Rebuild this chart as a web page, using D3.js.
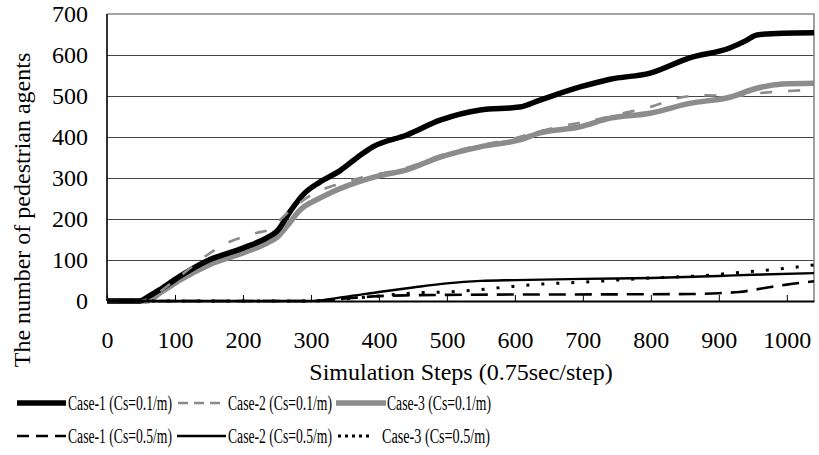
<!DOCTYPE html>
<html>
<head>
<meta charset="utf-8">
<script src="https://cdn.jsdelivr.net/npm/d3@7"></script>
<style>
  body { margin: 0; background: #fff; }
  svg { display: block; font-family: "Liberation Serif", "Times New Roman", serif; }
</style>
</head>
<body>
<div id="chart"></div>
<script>
// x ticks / y ticks
const xTicks = [0, 100, 200, 300, 400, 500, 600, 700, 800, 900, 1000];
const yTicks = [0, 100, 200, 300, 400, 500, 600, 700];

// [step, agents]
const case1Low = [[0,0],[48,0],[60,10],[80,30],[107,60],[150,100],[200,129],[235,154],[250,170],[270,220],[290,262],[313,290],[343,318],[372,355],[391,376],[441,405],[490,441],[549,466],[607,473],[637,490],[696,522],[740,541],[799,556],[857,593],[916,617],[940,635],[956,649],[994,653],[1040,654]];
const case2Low = [[0,0],[50,0],[70,15],[107,60],[137,100],[176,141],[220,166],[240,175],[259,205],[300,258],[340,285],[372,300],[441,325],[490,355],[549,380],[600,397],[634,413],[676,429],[715,441],[759,458],[799,473],[840,495],[882,502],[920,500],[960,507],[1000,512],[1040,515]];
const case3Low = [[0,0],[59,0],[80,22],[107,51],[150,88],[200,117],[235,141],[250,155],[264,181],[284,222],[313,251],[372,292],[400,305],[441,320],[490,351],[549,376],[607,393],[637,410],[696,425],[740,446],[799,458],[857,482],[916,497],[956,519],[994,529],[1040,531]];
const case1High = [[0,0],[300,0],[350,6],[400,12],[450,14],[500,15],[860,17],[900,19],[930,22],[965,31],[1000,40],[1040,48]];
const case2High = [[0,0],[300,0],[350,10],[400,22],[450,33],[500,43],[550,49],[600,51],[700,54],[800,56],[900,61],[950,64],[1040,68]];
const case3High = [[0,0],[300,0],[350,5],[400,12],[455,20],[500,22],[549,28],[593,35],[637,41],[700,46],[799,56],[887,63],[931,70],[975,76],[1000,80],[1040,88]];

const seriesNames = ["Case-1 (Cs=0.1/m)", "Case-2 (Cs=0.1/m)", "Case-3 (Cs=0.1/m)",
                     "Case-1 (Cs=0.5/m)", "Case-2 (Cs=0.5/m)", "Case-3 (Cs=0.5/m)"];

const W = 819, H = 455;
const margin = { top: 14, right: 5, bottom: 154, left: 107 };

const svg = d3.select("#chart").append("svg")
  .attr("width", W).attr("height", H);

const x = d3.scaleLinear().domain([0, 1040]).range([margin.left, W - margin.right]);
const y = d3.scaleLinear().domain([0, 700]).range([H - margin.bottom, margin.top]);

// gridlines
svg.append("g")
  .attr("transform", `translate(${margin.left},0)`)
  .call(d3.axisLeft(y).tickValues(yTicks.slice(1, -1)).tickSize(-(x.range()[1] - margin.left)).tickFormat(""))
  .call(g => g.select(".domain").remove())
  .call(g => g.selectAll("line").attr("stroke", "#444").attr("stroke-width", 1));

// frame top and right
svg.append("path")
  .attr("d", `M${x(0)},${y(700)}H${x(1040)}V${y(0)}`)
  .attr("fill", "none").attr("stroke", "#888").attr("stroke-width", 1.6);

// y tick labels
svg.append("g")
  .attr("transform", `translate(${margin.left},0)`)
  .call(d3.axisLeft(y).tickValues(yTicks).tickSize(0).tickPadding(19).tickFormat(d3.format("d")))
  .call(g => g.select(".domain").remove())
  .call(g => g.selectAll("text")
    .attr("font-family", "Liberation Serif").attr("font-size", 24).attr("fill", "#000"));

// x axis, ticks pointing into the plot
const xAxis = svg.append("g")
  .attr("transform", `translate(0,${y(0)})`)
  .call(d3.axisBottom(x).tickValues(xTicks).tickSize(-6).tickSizeOuter(0).tickFormat(d3.format("d")))
  .call(g => g.select(".domain").attr("stroke", "#000").attr("stroke-width", 2.2))
  .call(g => g.selectAll("line").attr("stroke", "#000"));
xAxis.selectAll("text")
  .attr("font-family", "Liberation Serif").attr("font-size", 24).attr("fill", "#000")
  .attr("y", 47).attr("dy", 0);

// left axis line
svg.append("line")
  .attr("x1", x(0)).attr("x2", x(0)).attr("y1", y(700)).attr("y2", y(0))
  .attr("stroke", "#000").attr("stroke-width", 1.6);

const line = d3.line()
  .x(d => x(d[0]))
  .y(d => y(d[1]))
  .curve(d3.curveMonotoneX);

const styles = [
  { data: case1Low, color: "#000", width: 5.5, dash: null, legendDash: null },
  { data: case2Low, color: "#8c8c8c", width: 2.6, dash: "12,16", legendDash: "10,6" },
  { data: case3Low, color: "#8c8c8c", width: 5.5, dash: null, legendDash: null },
  { data: case1High, color: "#000", width: 2.6, dash: "17,9", legendDash: "12,7" },
  { data: case2High, color: "#000", width: 2.4, dash: null, legendDash: null },
  { data: case3High, color: "#000", width: 3, dash: "3,12", legendDash: "3,4" }
];

const drawOrder = [2, 0, 1, 3, 4, 5];
const plot = svg.append("g");
drawOrder.forEach(i => {
  const s = styles[i];
  plot.append("path")
    .datum(s.data)
    .attr("d", line)
    .attr("fill", "none")
    .attr("stroke", s.color)
    .attr("stroke-width", s.width)
    .attr("stroke-dasharray", s.dash)
    .attr("stroke-linejoin", "round");
});

// axis titles
svg.append("text")
  .attr("x", 461).attr("y", 380)
  .attr("text-anchor", "middle")
  .attr("font-size", 24)
  .text("Simulation Steps (0.75sec/step)");

svg.append("text")
  .attr("transform", "translate(30,210) rotate(-90)")
  .attr("text-anchor", "middle")
  .attr("font-size", 24)
  .text("The number of pedestrian agents");

// legend
const legendPos = [
  { x0: 17, x1: 66, tx: 68, y: 403 },
  { x0: 178, x1: 224, tx: 228, y: 403 },
  { x0: 336, x1: 386, tx: 387, y: 403 },
  { x0: 17, x1: 66, tx: 68, y: 436 },
  { x0: 177, x1: 226, tx: 228, y: 436 },
  { x0: 338, x1: 372, tx: 382, y: 436 }
];

const legend = svg.append("g");
styles.forEach((s, i) => {
  const p = legendPos[i];
  legend.append("line")
    .attr("x1", p.x0).attr("x2", p.x1).attr("y1", p.y).attr("y2", p.y)
    .attr("stroke", s.color)
    .attr("stroke-width", s.width)
    .attr("stroke-dasharray", s.legendDash);
  legend.append("text")
    .attr("x", p.tx).attr("y", p.y + 6.5)
    .attr("font-size", 20)
    .attr("textLength", i === 5 ? 108 : 104)
    .attr("lengthAdjust", "spacingAndGlyphs")
    .text(seriesNames[i]);
});
</script>
</body>
</html>
